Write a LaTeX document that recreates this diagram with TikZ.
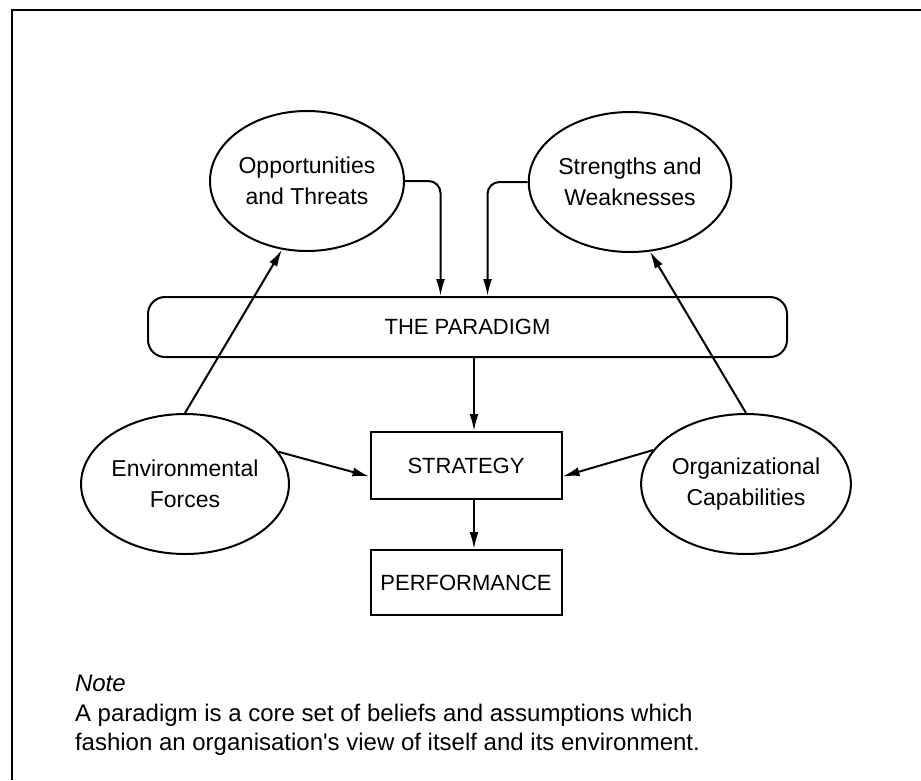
\documentclass[tikz,border=0pt]{standalone}
\usepackage{fontspec}
\setmainfont{Liberation Sans}
\usetikzlibrary{arrows.meta, positioning, shapes.geometric}
\tikzset{
  view/.style={
    ellipse,
    draw,
    align=center,
    minimum width=194pt,
    minimum height=140pt,
    inner sep=0pt,
    font=\fontsize{23}{31}\selectfont
  },
  block/.style={
    rectangle,
    draw,
    align=center,
    minimum width=191pt,
    minimum height=67pt,
    inner sep=0pt,
    font=\fontsize{22}{26}\selectfont
  },
  arrow/.style={-{Latex[length=17pt,width=9pt]}},
  bentarrow/.style={arrow, rounded corners=12pt}
}

\begin{document}
\begin{tikzpicture}[x=1pt, y=-1pt, line width=2pt]
  \useasboundingbox (0,0) rectangle (921,780);
  % open frame, top and left only
  \draw (921,10) -- (12,10) -- (12,780);

  \node[view] (opp) at (307,181) {Opportunities\\and Threats};
  \node[view] (sw) at (630,182) {Strengths and\\Weaknesses};
  \node[block, rounded corners=17pt, minimum width=639pt, minimum height=60pt] (paradigm) at (467.5,327) {THE PARADIGM};
  \node[block] (strategy) at (466,465.5) {STRATEGY};
  \node[block, below=49pt of strategy, minimum height=65pt] (perf) {PERFORMANCE};
  \node[view] (env) at (185,484) {Environmental\\Forces};
  \node[view] (org) at (746,484) {Organizational\\Capabilities};

  \coordinate (s) at ([xshift=8pt]strategy.north);

  \draw[bentarrow] (opp.east) -| ([xshift=-27pt]paradigm.north);
  \draw[bentarrow] (sw.west) -| ([xshift=20pt]paradigm.north);
  \draw[arrow] (env.north) -- (opp.250);
  \draw[arrow] (org.north) -- (sw.286);
  \draw[arrow] (paradigm.south -| s) -- (s);
  \draw[arrow] ([xshift=8pt]strategy.south) -- ([xshift=8pt]perf.north);
  \draw[arrow] (env.19) -- ([yshift=-11pt]strategy.west);
  \draw[arrow] (org.160) -- ([yshift=-11pt]strategy.east);

  \node[anchor=north west, inner sep=0pt, align=left, font=\fontsize{24}{29.5}\selectfont] (note) at (74,674)
    {\textit{Note}\\A paradigm is a core set of beliefs and assumptions which\\fashion an organisation\textquotesingle s view of itself and its environment.};
\end{tikzpicture}
\end{document}
